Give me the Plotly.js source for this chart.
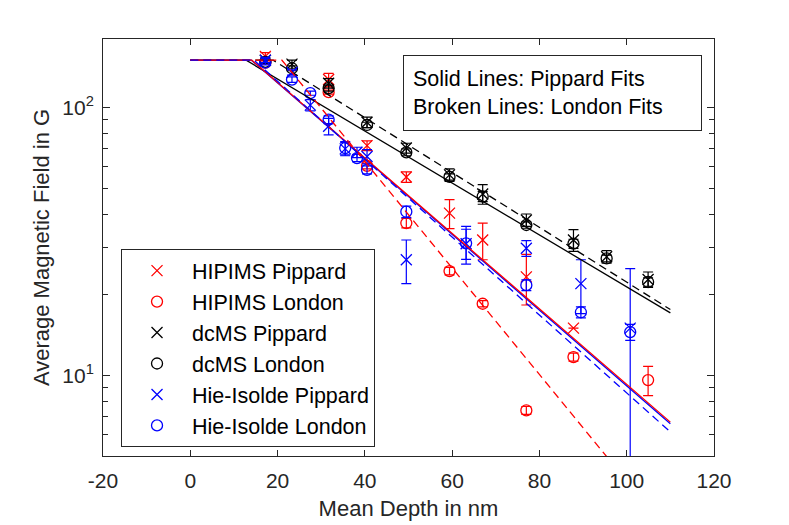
<!DOCTYPE html>
<html>
<head>
<meta charset="utf-8">
<script src="https://cdn.plot.ly/plotly-3.0.1.min.js"></script>
<style>
  html, body { margin: 0; padding: 0; background: #ffffff; }
  #plot { width: 789px; height: 525px; }
</style>
</head>
<body>
<div id="plot"></div>
<script>
const depthHip = [17.2, 31.7, 40.5, 49.5, 59.4, 67.0, 77.0, 87.8, 104.9];
const hipPippard = [155, 127, 72, 55, 40.3, 32, 23.3, 15, null];
const hipPippardErr = [5, 7, 3, 2.5, 5, 5, 5, null, null];
const hipLondon = [147, 114, 60.5, 37, 24.5, 18.5, 7.4, 11.7, 9.6];
const hipLondonErr = [2, 2, 1.5, 1.5, 0.8, 0.5, 0.25, 0.4, 1.2];

const depthDc = [17.2, 23.3, 31.7, 40.5, 49.5, 59.4, 67.0, 77.0, 87.8, 95.4, 104.9];
const dcPippard = [150, 145, 123, 88, 70.5, 56, 47.5, 38, 32, 27.7, 22.8];
const dcPippardErr = [3, 5, 5, 4, 3, 3, 4, 2, 3, 1.5, 1.5];
const dcLondon = [148, 140, 118, 86, 68, 55, 46.5, 36.4, 31, 27.3, 22.3];
const dcLondonErr = [2, 3, 3, 2, 2, 1.5, 2, 1, 1.2, 0.8, 0.8];

const depthHie = [17.2, 23.3, 27.5, 31.7, 35.5, 38.2, 40.5, 49.5, 63.2, 77.0, 89.5, 100.8];
const hiePippard = [150, 135, 102, 85, 70, 68, 65.6, 27, 31, 29.8, 22, 15];
const hiePippardErr = [3, 3, 5, 6, 4, 3, 4, 5, 5, 2, 5, 10];
const hiePippardErrMinus = [3, 3, 5, 6, 4, 3, 4, 5, 5, 2, 5, 11];
const hieLondon = [147, 127, 113, 90, 70.5, 64.7, 58.5, 40.8, 31.1, 21.7, 17.2, 14.5];
const hieLondonErr = [3, 3, 2, 3, 4, 2, 2, 2, 4, 1, 0.8, 1];

// Fit curves: plateau then exponential decay (straight on log axis)
const fitHipPippard = { x: [0, 14.1, 110], y: [150, 150, 6.69] };
const fitHipLondon = { x: [0, 21, 110], y: [150, 150, 2.55] };
const fitDcPippard = { x: [0, 12.8, 110], y: [150, 150, 17.1] };
const fitDcLondon = { x: [0, 19, 110], y: [150, 150, 17.6] };
const fitHiePippard = { x: [0, 14.0, 110], y: [150, 150, 6.6] };
const fitHieLondon = { x: [0, 14.6, 110], y: [150, 150, 6.15] };

const xTicks = [-20, 0, 20, 40, 60, 80, 100, 120];
const xTickText = ['-20', '0', '20', '40', '60', '80', '100', '120'];

const RED = '#ff0000';
const BLUE = '#0000ff';
const BLACK = '#000000';
const AXIS = '#262626';
const FONT = 'Liberation Sans, Arial, Helvetica, sans-serif';

function points(x, y, err, errMinus, color, symbol, name) {
  return {
    x: x,
    y: y,
    mode: 'markers',
    type: 'scatter',
    name: name,
    marker: {
      symbol: symbol,
      size: 11,
      color: color,
      line: { color: color, width: 1.3 }
    },
    error_y: {
      type: 'data',
      symmetric: errMinus ? false : true,
      array: err,
      arrayminus: errMinus || undefined,
      color: color,
      thickness: 1.2,
      width: 5
    }
  };
}

function fit(f, color, dash) {
  return {
    x: f.x,
    y: f.y,
    mode: 'lines',
    type: 'scatter',
    showlegend: false,
    hoverinfo: 'skip',
    line: { color: color, width: 1.3, dash: dash ? '8px,5px' : 'solid' }
  };
}

const traces = [
  points(depthHip, hipPippard, hipPippardErr, null, RED, 'x-thin-open', 'HIPIMS Pippard'),
  points(depthHip, hipLondon, hipLondonErr, null, RED, 'circle-open', 'HIPIMS London'),
  points(depthDc, dcPippard, dcPippardErr, null, BLACK, 'x-thin-open', 'dcMS Pippard'),
  points(depthDc, dcLondon, dcLondonErr, null, BLACK, 'circle-open', 'dcMS London'),
  points(depthHie, hiePippard, hiePippardErr, hiePippardErrMinus, BLUE, 'x-thin-open', 'Hie-Isolde Pippard'),
  points(depthHie, hieLondon, hieLondonErr, null, BLUE, 'circle-open', 'Hie-Isolde London'),
  fit(fitDcPippard, BLACK, false),
  fit(fitDcLondon, BLACK, true),
  fit(fitHiePippard, BLUE, false),
  fit(fitHipPippard, RED, false),
  fit(fitHipLondon, RED, true),
  fit(fitHieLondon, BLUE, true)
];

const layout = {
  width: 789,
  height: 525,
  margin: { l: 103, r: 75, t: 39, b: 69 },
  paper_bgcolor: '#ffffff',
  plot_bgcolor: '#ffffff',
  font: { family: FONT, size: 21, color: AXIS },
  showlegend: true,
  xaxis: {
    range: [-20, 120],
    tickvals: xTicks,
    ticktext: xTickText,
    ticks: 'inside',
    ticklen: 6,
    tickwidth: 1,
    tickcolor: AXIS,
    showline: true,
    linecolor: AXIS,
    linewidth: 1,
    mirror: 'ticks',
    showgrid: false,
    zeroline: false,
    ticklabelstandoff: 6,
    tickfont: { family: FONT, size: 21, color: AXIS },
    title: {
      text: 'Mean Depth in nm',
      font: { family: FONT, size: 22, color: AXIS },
      standoff: 9
    }
  },
  yaxis: {
    type: 'log',
    range: [Math.log10(5), Math.log10(180)],
    tickvals: [10, 100],
    ticktext: ['10<sup>1</sup>', '10<sup>2</sup>'],
    ticks: 'inside',
    ticklen: 7,
    tickwidth: 1,
    tickcolor: AXIS,
    minor: {
      tickvals: [5, 6, 7, 8, 9, 20, 30, 40, 50, 60, 70, 80, 90],
      ticks: 'inside',
      ticklen: 5,
      tickcolor: AXIS,
      showgrid: false
    },
    showline: true,
    linecolor: AXIS,
    linewidth: 1,
    mirror: 'ticks',
    showgrid: false,
    zeroline: false,
    ticklabelstandoff: 4,
    tickfont: { family: FONT, size: 21, color: AXIS },
    title: {
      text: 'Average Magnetic Field in G',
      font: { family: FONT, size: 22, color: AXIS },
      standoff: 6
    }
  },
  legend: {
    x: 0.0295,
    y: 0.496,
    xanchor: 'left',
    yanchor: 'top',
    bgcolor: '#ffffff',
    bordercolor: AXIS,
    borderwidth: 1,
    itemwidth: 60,
    font: { family: FONT, size: 21.5, color: '#000000' },
    tracegroupgap: 0
  },
  annotations: [{
    xref: 'paper',
    yref: 'paper',
    x: 0.4905,
    y: 0.9616,
    xanchor: 'left',
    yanchor: 'top',
    align: 'left',
    valign: 'middle',
    showarrow: false,
    text: 'Solid Lines: Pippard Fits<br>Broken Lines: London Fits',
    font: { family: FONT, size: 21.5, color: '#000000' },
    bgcolor: '#ffffff',
    bordercolor: AXIS,
    borderwidth: 1,
    borderpad: 9,
    width: 279,
    height: 56
  }]
};

Plotly.newPlot('plot', traces, layout, { displayModeBar: false, staticPlot: true });
</script>
</body>
</html>
